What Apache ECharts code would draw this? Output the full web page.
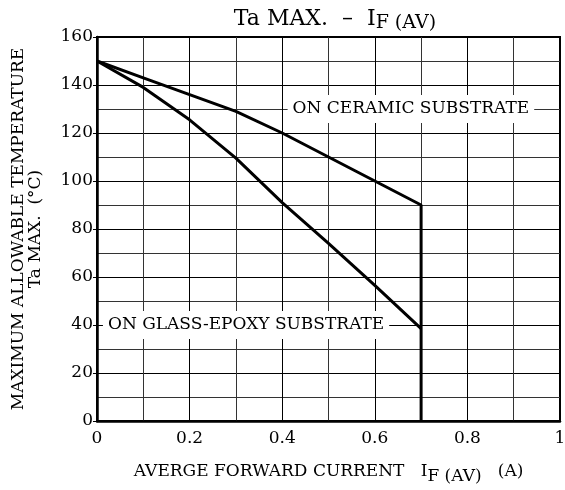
<!DOCTYPE html>
<html><head><meta charset="utf-8">
<script src="https://cdn.jsdelivr.net/npm/echarts@6/dist/echarts.min.js"></script>
<style>html,body{margin:0;padding:0;background:#fff}#c{width:565px;height:490px}</style>
</head><body><div id="c"></div>
<script>
var xTicks = [0, 0.2, 0.4, 0.6, 0.8, 1];
var yTicks = [0, 20, 40, 60, 80, 100, 120, 140, 160];
var current = [0, 0.1, 0.2, 0.3, 0.4, 0.5, 0.6, 0.7, 0.7];
var ceramicTemp = [150, 143, 136, 129, 120, 110, 100, 90, 0];
var glassCurrent = [0, 0.1, 0.2, 0.3, 0.4, 0.5, 0.6, 0.7];
var glassTemp = [150, 139, 125.5, 109.5, 91, 74, 56.5, 38.5];
var ceramicLabel = {text: 'ON CERAMIC SUBSTRATE', x: 0.678, y: 130};
var glassLabel = {text: 'ON GLASS-EPOXY SUBSTRATE', x: 0.322, y: 40};

var FONT = 'DejaVu Serif';
function pairs(xs, ys){ return xs.map(function(x,i){return [x, ys[i]];}); }
function boxLabel(l){
  return {coord:[l.x, l.y], symbolSize:0, label:{show:true, position:'inside', formatter:l.text,
    fontFamily:FONT, fontSize:17, color:'#000', backgroundColor:'#fff', padding:[6,5,5,5]}};
}
var chart = echarts.init(document.getElementById('c'));
chart.setOption({
  animation:false,
  backgroundColor:'#fff',
  title:{text:'Ta MAX.  –  I{s|F (AV)}', left:330, top:0, textAlign:'center',
    textStyle:{fontFamily:FONT, fontSize:22, fontWeight:'normal', color:'#000',
      rich:{s:{fontFamily:FONT, fontSize:19, color:'#000', padding:[9,0,0,0]}}}},
  grid:{left:97, right:5, top:37, bottom:69, show:true, borderColor:'#000', borderWidth:2,
    containLabel:false, outerBoundsMode:'none'},
  xAxis:{type:'value', min:0, max:1, interval:0.2,
    name:'AVERGE FORWARD CURRENT   I{s|F (AV)}   (A)', nameLocation:'middle', nameGap:38,
    nameTextStyle:{fontFamily:FONT, fontSize:17, color:'#000',
      rich:{s:{fontFamily:FONT, fontSize:17, color:'#000', padding:[9,0,0,0]}}},
    axisLine:{lineStyle:{color:'#000', width:2.5}}, axisTick:{show:false},
    axisLabel:{fontFamily:FONT, fontSize:17, color:'#000', margin:9,
      formatter:function(v){return String(Math.round(v*10)/10);}},
    splitLine:{lineStyle:{color:'#000', width:1}},
    minorTick:{show:false, splitNumber:2},
    minorSplitLine:{show:true, lineStyle:{color:'#333', width:1}}},
  yAxis:{type:'value', min:0, max:160, interval:20,
    name:'MAXIMUM ALLOWABLE TEMPERATURE\nTa MAX.  (°C)', nameLocation:'middle', nameGap:53, nameRotate:90,
    nameTextStyle:{fontFamily:FONT, fontSize:17, color:'#000', lineHeight:17},
    axisLine:{lineStyle:{color:'#000', width:2.5}},
    axisTick:{show:true, length:4, lineStyle:{color:'#000'}},
    axisLabel:{fontFamily:FONT, fontSize:17, color:'#000', margin:4},
    splitLine:{lineStyle:{color:'#000', width:1}},
    minorTick:{show:false, splitNumber:2},
    minorSplitLine:{show:true, lineStyle:{color:'#333', width:1}}},
  series:[
    {type:'line', data:pairs(current, ceramicTemp), symbol:'none', lineStyle:{color:'#000', width:3},
     markPoint:{silent:true, data:[boxLabel(ceramicLabel)]}},
    {type:'line', data:pairs(glassCurrent, glassTemp), symbol:'none', lineStyle:{color:'#000', width:3},
     markPoint:{silent:true, data:[boxLabel(glassLabel)]}}
  ]
});
</script></body></html>
